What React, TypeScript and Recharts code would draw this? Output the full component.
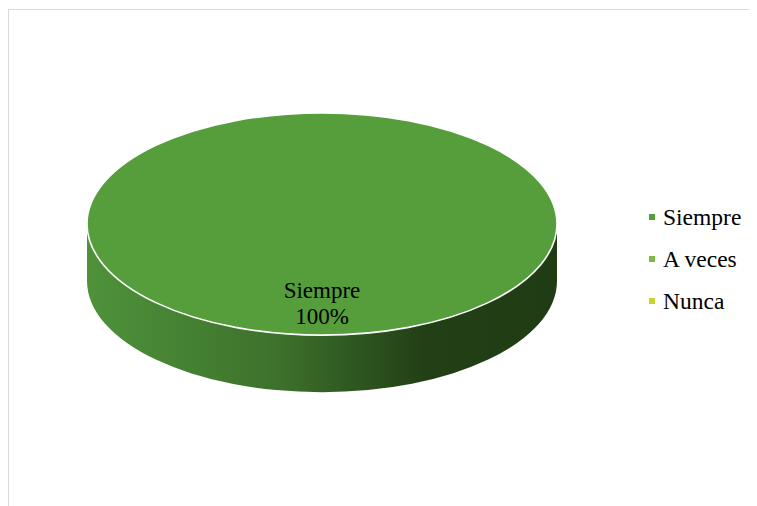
import { Cell, Legend, Pie, PieChart } from "recharts"

const categories = ["Siempre", "A veces", "Nunca"]
const values = [100, 0, 0]
const colors = ["#559e3b", "#7fb844", "#c3d530"]

const data = categories.map((name, i) => ({ name, value: values[i] }))
const total = values.reduce((a, b) => a + b, 0)

const SERIF = "'Liberation Serif', 'Times New Roman', Times, serif"
const TILT = 0.473 // ry / rx
const DEPTH = 57

function Slice3D(props: any) {
  const { cx, cy, outerRadius, startAngle, endAngle, fill } = props
  if (Math.abs(endAngle - startAngle) < 0.01) return null
  const rx = outerRadius
  const ry = outerRadius * TILT
  const side =
    `M${cx - rx},${cy} L${cx - rx},${cy + DEPTH} ` +
    `A${rx},${ry} 0 0 0 ${cx + rx},${cy + DEPTH} ` +
    `L${cx + rx},${cy} A${rx},${ry} 0 0 1 ${cx - rx},${cy} Z`
  return (
    <g>
      <defs>
        <linearGradient id="side-grad" x1="0" y1="0" x2="1" y2="0">
          <stop offset="0%" stopColor="#4f923a" />
          <stop offset="40%" stopColor="#3d722c" />
          <stop offset="72%" stopColor="#223f16" />
          <stop offset="100%" stopColor="#1f3c14" />
        </linearGradient>
      </defs>
      <path d={side} fill="url(#side-grad)" />
      <ellipse cx={cx} cy={cy} rx={rx} ry={ry} fill={fill} stroke="#ffffff" strokeWidth={1.6} />
    </g>
  )
}

function SliceLabel(props: any) {
  const { cx, cy, payload, value } = props
  if (!value) return null
  const pct = Math.round((value / total) * 100)
  return (
    <text x={cx} y={cy + 74} textAnchor="middle" fill="#000" fontFamily={SERIF} fontSize={23}>
      <tspan x={cx} dy={0}>{payload.name}</tspan>
      <tspan x={cx} dy={26}>{pct}%</tspan>
    </text>
  )
}

// legend in the category order of the source, not sorted
function LegendBox() {
  return (
    <div style={{ fontFamily: SERIF, fontSize: 23.5, color: "#000" }}>
      {categories.map((name, i) => (
        <div key={name} style={{ display: "flex", alignItems: "center", height: 42 }}>
          <span style={{ width: 6, height: 6, background: colors[i], marginRight: 8, display: "inline-block" }} />
          <span>{name}</span>
        </div>
      ))}
    </div>
  )
}

export default function App() {
  return (
    <div
      style={{
        width: 749,
        height: 497,
        marginTop: 1,
        borderTop: "1px solid #d9d9d9",
        borderLeft: "1px solid #d9d9d9",
        background: "#fff",
      }}
    >
      <PieChart width={748} height={496}>
        <Pie
          data={data}
          dataKey="value"
          nameKey="name"
          cx={308}
          cy={209}
          outerRadius={235}
          startAngle={90}
          endAngle={-270}
          shape={<Slice3D />}
          label={<SliceLabel />}
          labelLine={false}
          stroke="none"
          isAnimationActive={false}
        >
          {data.map((d, i) => (
            <Cell key={d.name} fill={colors[i]} />
          ))}
        </Pie>
        <Legend
          layout="vertical"
          content={<LegendBox />}
          wrapperStyle={{ left: 640, top: 186, width: 120 }}
        />
      </PieChart>
    </div>
  )
}
